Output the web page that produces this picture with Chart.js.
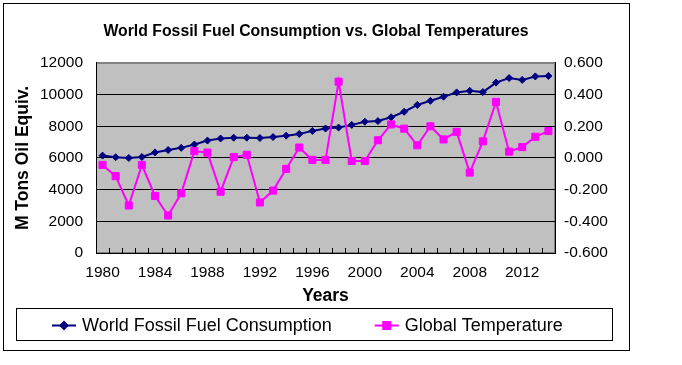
<!DOCTYPE html>
<html>
<head>
<meta charset="utf-8">
<title>World Fossil Fuel Consumption vs. Global Temperatures</title>
<script src="https://cdn.jsdelivr.net/npm/chart.js@4.4.0/dist/chart.umd.min.js"></script>
<style>
  html, body { margin: 0; padding: 0; background: #fff; }
  canvas { display: block; }
</style>
</head>
<body>
<canvas id="chart" width="682" height="365"></canvas>
<script>
// data
const years = [
  '1980', '1981', '1982', '1983', '1984', '1985', '1986', '1987', '1988', '1989',
  '1990', '1991', '1992', '1993', '1994', '1995', '1996', '1997', '1998', '1999',
  '2000', '2001', '2002', '2003', '2004', '2005', '2006', '2007', '2008', '2009',
  '2010', '2011', '2012', '2013', '2014'
];
const fossilFuel = [
  6150, 6050, 6000, 6060, 6350, 6500, 6640, 6850, 7100, 7230,
  7280, 7280, 7260, 7320, 7410, 7520, 7710, 7860, 7920, 8090,
  8290, 8330, 8570, 8920, 9350, 9610, 9870, 10140, 10240, 10160,
  10760, 11050, 10930, 11150, 11180
];
const globalTemp = [
  -0.044, -0.115, -0.300, -0.044, -0.240, -0.363, -0.223, 0.043, 0.034, -0.213,
  0.006, 0.020, -0.281, -0.206, -0.069, 0.066, -0.012, -0.012, 0.482, -0.019,
  -0.019, 0.112, 0.212, 0.185, 0.080, 0.200, 0.117, 0.165, -0.092, 0.105,
  0.354, 0.040, 0.069, 0.134, 0.170
];
const yearTickLabels = ['1980', '1984', '1988', '1992', '1996', '2000', '2004', '2008', '2012'];

const FONT = 'Arial, "Liberation Sans", sans-serif';

// white page, outer frame, grey plot area
const backgroundPlugin = {
  id: 'background',
  beforeDraw(chart) {
    const { ctx, chartArea: a } = chart;
    ctx.save();
    ctx.fillStyle = '#fff';
    ctx.fillRect(0, 0, chart.width, chart.height);
    ctx.strokeStyle = '#000';
    ctx.lineWidth = 1;
    ctx.strokeRect(3.5, 3.5, 626, 347);
    ctx.fillStyle = '#c0c0c0';
    ctx.fillRect(a.left, a.top, a.right - a.left, a.bottom - a.top);
    ctx.strokeStyle = '#808080';
    ctx.strokeRect(a.left + 0.5, a.top + 0.5, a.right - a.left - 1, a.bottom - a.top - 1);
    ctx.restore();
  }
};

// short inside tick marks between the categories
const categoryTicksPlugin = {
  id: 'categoryTicks',
  beforeDatasetsDraw(chart) {
    const { ctx, chartArea: a } = chart;
    const x = chart.scales.x;
    ctx.save();
    ctx.strokeStyle = '#000';
    ctx.lineWidth = 1;
    ctx.beginPath();
    for (let i = 0; i < years.length - 1; i++) {
      const px = Math.round((x.getPixelForValue(i) + x.getPixelForValue(i + 1)) / 2) + 0.5;
      ctx.moveTo(px, a.bottom);
      ctx.lineTo(px, a.bottom - 5);
    }
    ctx.stroke();
    ctx.restore();
  }
};

// boxed legend under the axis title
const boxLegendPlugin = {
  id: 'boxLegend',
  afterDraw(chart) {
    const { ctx } = chart;
    ctx.save();
    ctx.strokeStyle = '#000';
    ctx.lineWidth = 1;
    ctx.strokeRect(16.5, 308.5, 596, 32);
    ctx.font = '18px ' + FONT;
    ctx.textBaseline = 'alphabetic';
    ctx.fillStyle = '#000';
    let x = 52;
    const cy = 325.5;
    chart.data.datasets.forEach((ds) => {
      ctx.strokeStyle = ds.borderColor;
      ctx.lineWidth = 2;
      ctx.beginPath();
      ctx.moveTo(x, cy);
      ctx.lineTo(x + 24, cy);
      ctx.stroke();
      ctx.fillStyle = ds.borderColor;
      Chart.helpers.drawPoint(ctx, {
        pointStyle: ds.pointStyle,
        radius: ds.pointRadius,
        borderWidth: 1
      }, x + 12, cy);
      ctx.fillStyle = '#000';
      ctx.fillText(ds.label, x + 30, 331);
      x += 30 + ctx.measureText(ds.label).width + 43;
    });
    ctx.restore();
  }
};

new Chart(document.getElementById('chart'), {
  type: 'line',
  data: {
    labels: years,
    datasets: [
      {
        label: 'World Fossil Fuel Consumption',
        data: fossilFuel,
        yAxisID: 'y',
        borderColor: '#000080',
        backgroundColor: '#000080',
        borderWidth: 2,
        pointStyle: 'rectRot',
        pointRadius: 3.5,
        pointBorderWidth: 1,
        tension: 0,
        order: 1
      },
      {
        label: 'Global Temperature',
        data: globalTemp,
        yAxisID: 'y1',
        borderColor: '#ff00ff',
        backgroundColor: '#ff00ff',
        borderWidth: 2,
        pointStyle: 'rect',
        pointRadius: 5,
        pointBorderWidth: 1,
        tension: 0,
        order: 0
      }
    ]
  },
  options: {
    responsive: false,
    devicePixelRatio: 1,
    animation: false,
    layout: { padding: { left: 0, right: 50, top: 0, bottom: 58 } },
    plugins: {
      legend: { display: false },
      tooltip: { enabled: false },
      title: {
        display: true,
        text: 'World Fossil Fuel Consumption vs. Global Temperatures',
        color: '#000',
        font: { family: FONT, size: 15.8, weight: 'bold' },
        padding: { top: 22, bottom: 22 }
      }
    },
    scales: {
      x: {
        type: 'category',
        offset: true,
        grid: { display: false },
        border: { display: true, color: '#000', width: 1 },
        ticks: {
          autoSkip: false,
          maxRotation: 0,
          padding: 2,
          color: '#000',
          font: { family: FONT, size: 15.5 },
          callback: (v, i) => (yearTickLabels.includes(years[i]) ? years[i] : '')
        },
        title: {
          display: true,
          text: 'Years',
          color: '#000',
          font: { family: FONT, size: 17.5, weight: 'bold' },
          padding: { top: 0, bottom: 0 }
        },
        afterFit(scale) { scale.height = 54; }
      },
      y: {
        position: 'left',
        min: 0,
        max: 12000,
        grid: {
          drawTicks: false,
          color: (c) => (c.tick && c.tick.value === 12000 ? '#808080' : '#000'),
          lineWidth: 1
        },
        border: { display: true, color: '#000', width: 1 },
        ticks: {
          stepSize: 2000,
          padding: 13,
          color: '#000',
          font: { family: FONT, size: 15.5 },
          callback: (v) => String(v)
        },
        title: {
          display: true,
          text: 'M Tons Oil Equiv.',
          color: '#000',
          font: { family: FONT, size: 17.5, weight: 'bold' },
          padding: { top: 13, bottom: 0 }
        },
        afterFit(scale) { scale.width = 96; }
      },
      y1: {
        position: 'right',
        min: -0.6,
        max: 0.6,
        grid: { display: false, drawTicks: false },
        border: { display: true, color: '#000', width: 1 },
        ticks: {
          stepSize: 0.2,
          padding: 9,
          color: '#000',
          font: { family: FONT, size: 15.5 },
          callback: (v) => Number(v).toFixed(3)
        },
        afterFit(scale) { scale.width = 77; }
      }
    }
  },
  plugins: [backgroundPlugin, categoryTicksPlugin, boxLegendPlugin]
});
</script>
</body>
</html>
